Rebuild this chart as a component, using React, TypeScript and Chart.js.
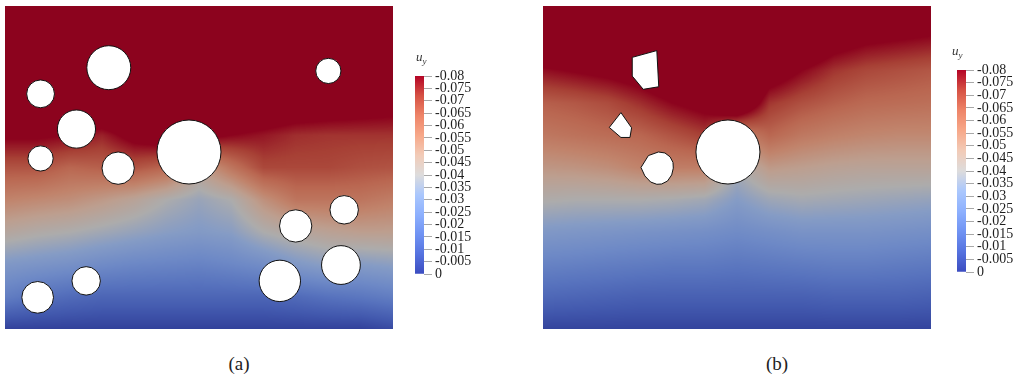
import React, { useEffect, useRef } from 'react';
import { Chart, registerables } from 'chart.js';
Chart.register(...registerables);

// ---------- data ----------
const U_MIN = -0.08;
const U_MAX = 0;

// sample grid (x: 0..12 left->right, y: 10..0 top->bottom)
const GRID_X = [0, 1, 2, 3, 4, 5, 6, 7, 8, 9, 10, 11, 12];
const GRID_Y = [10, 9, 8, 7, 6, 5, 4, 3, 2, 1, 0];

// u_y samples, rows from top to bottom
const FIELD_A: number[][] = [
  [-0.128, -0.128, -0.128, -0.128, -0.128, -0.128, -0.128, -0.128, -0.128, -0.128, -0.128, -0.128, -0.128],
  [-0.12, -0.12, -0.12, -0.12, -0.12, -0.12, -0.12, -0.12, -0.12, -0.12, -0.12, -0.12, -0.12],
  [-0.108, -0.108, -0.108, -0.108, -0.108, -0.108, -0.108, -0.108, -0.108, -0.108, -0.108, -0.108, -0.108],
  [-0.096, -0.096, -0.096, -0.096, -0.096, -0.1, -0.1, -0.096, -0.092, -0.0896, -0.088, -0.0864, -0.0848],
  [-0.0816, -0.0816, -0.08, -0.076, -0.084, -0.088, -0.084, -0.08, -0.0776, -0.0744, -0.0736, -0.0736, -0.0736],
  [-0.068, -0.068, -0.064, -0.0656, -0.068, -0.064, -0.048, -0.06, -0.0704, -0.0704, -0.0704, -0.0688, -0.068],
  [-0.056, -0.0544, -0.0528, -0.0496, -0.0456, -0.04, -0.036, -0.04, -0.052, -0.06, -0.06, -0.06, -0.0576],
  [-0.044, -0.0416, -0.04, -0.0376, -0.0352, -0.0328, -0.0312, -0.0328, -0.04, -0.044, -0.0464, -0.048, -0.048],
  [-0.0304, -0.0288, -0.0272, -0.0248, -0.0232, -0.0224, -0.0216, -0.0232, -0.0256, -0.0304, -0.0336, -0.032, -0.0336],
  [-0.02, -0.016, -0.0136, -0.012, -0.012, -0.012, -0.012, -0.012, -0.012, -0.0136, -0.016, -0.0176, -0.02],
  [-0.0016, -0.0016, -0.0016, -0.0016, -0.0016, -0.0016, -0.0016, -0.0016, -0.0016, -0.0016, -0.0016, -0.0016, -0.004],
];

// u_y samples, rows from top to bottom
const FIELD_B: number[][] = [
  [-0.112, -0.112, -0.112, -0.112, -0.12, -0.12, -0.12, -0.12, -0.116, -0.1104, -0.104, -0.096, -0.0896],
  [-0.096, -0.0976, -0.1, -0.104, -0.108, -0.112, -0.116, -0.108, -0.096, -0.0864, -0.0824, -0.0808, -0.0792],
  [-0.0784, -0.0808, -0.0832, -0.0864, -0.092, -0.096, -0.108, -0.088, -0.08, -0.0736, -0.0704, -0.0688, -0.0672],
  [-0.0656, -0.0672, -0.0696, -0.0744, -0.08, -0.084, -0.096, -0.0736, -0.0688, -0.0656, -0.0632, -0.0624, -0.0616],
  [-0.0592, -0.0608, -0.0624, -0.064, -0.068, -0.072, -0.056, -0.064, -0.0592, -0.0568, -0.0552, -0.0544, -0.0544],
  [-0.0504, -0.0512, -0.0528, -0.056, -0.0576, -0.0576, -0.04, -0.0496, -0.048, -0.0464, -0.0456, -0.0456, -0.0456],
  [-0.0408, -0.04, -0.04, -0.04, -0.0392, -0.0376, -0.032, -0.0368, -0.0384, -0.0376, -0.0368, -0.036, -0.0352],
  [-0.0304, -0.0296, -0.0288, -0.028, -0.0272, -0.0264, -0.0248, -0.0264, -0.028, -0.028, -0.028, -0.0272, -0.0264],
  [-0.0216, -0.0208, -0.02, -0.0192, -0.0184, -0.0184, -0.0176, -0.0184, -0.0192, -0.02, -0.02, -0.0192, -0.0184],
  [-0.0128, -0.012, -0.0112, -0.0104, -0.0104, -0.0104, -0.0104, -0.0104, -0.0104, -0.0112, -0.0112, -0.0112, -0.0104],
  [-0.0024, -0.0024, -0.0024, -0.0024, -0.0024, -0.0024, -0.0024, -0.0024, -0.0024, -0.0024, -0.0024, -0.0024, -0.0024],
];

// circular holes, panel (a)
const HOLES_A_X = [3.21, 1.1, 2.21, 1.1, 3.5, 5.69, 10.0, 10.49, 8.99, 10.39, 8.5, 2.51, 1.01];
const HOLES_A_Y = [8.09, 7.28, 6.19, 5.28, 4.98, 5.48, 7.99, 3.69, 3.19, 1.98, 1.49, 1.49, 0.98];
const HOLES_A_R = [0.68, 0.43, 0.59, 0.39, 0.5, 0.99, 0.39, 0.44, 0.5, 0.6, 0.64, 0.44, 0.49];

// circular hole, panel (b)
const HOLES_B_X = [5.72];
const HOLES_B_Y = [5.48];
const HOLES_B_R = [0.99];

// polygonal holes, panel (b)
const POLY_B1_X = [2.76, 3.52, 3.58, 3.1, 2.76];
const POLY_B1_Y = [8.41, 8.62, 7.5, 7.42, 7.83];
const POLY_B2_X = [2.41, 2.74, 2.69, 2.41, 2.05];
const POLY_B2_Y = [6.7, 6.23, 5.93, 5.93, 6.24];
const POLY_B3_X = [3.57, 3.77, 3.93, 4.02, 4.03, 3.98, 3.85, 3.67, 3.52, 3.33, 3.15, 3.03, 3.26];
const POLY_B3_Y = [5.48, 5.45, 5.33, 5.16, 4.98, 4.77, 4.58, 4.49, 4.48, 4.55, 4.74, 5.0, 5.37];

// colour bar
const CB_VALUES = [-0.08, -0.075, -0.07, -0.065, -0.06, -0.055, -0.05, -0.045, -0.04, -0.035, -0.03, -0.025, -0.02, -0.015, -0.01, -0.005, 0];
const CB_LABELS = ['-0.08', '-0.075', '-0.07', '-0.065', '-0.06', '-0.055', '-0.05', '-0.045', '-0.04', '-0.035', '-0.03', '-0.025', '-0.02', '-0.015', '-0.01', '-0.005', '0'];

// cool-to-warm colour map (0 = u_y 0, 1 = u_y -0.08)
const CMAP_T = [0, 0.1, 0.2, 0.3, 0.4, 0.5, 0.6, 0.7, 0.8, 0.9, 1];
const CMAP_RGB = [
  [59, 76, 192], [85, 114, 223], [112, 147, 243], [141, 176, 254], [170, 199, 253],
  [221, 220, 220], [242, 203, 183], [247, 168, 137], [238, 132, 104], [214, 82, 68], [180, 4, 38],
];
const FIELD_SHADE = 0.78;

// ---------- helpers ----------
function cmap(t: number): number[] {
  const tt = Math.max(0, Math.min(1, t));
  for (let i = 1; i < CMAP_T.length; i++) {
    if (tt <= CMAP_T[i]) {
      const f = (tt - CMAP_T[i - 1]) / (CMAP_T[i] - CMAP_T[i - 1]);
      const a = CMAP_RGB[i - 1], b = CMAP_RGB[i];
      return [a[0] + (b[0] - a[0]) * f, a[1] + (b[1] - a[1]) * f, a[2] + (b[2] - a[2]) * f];
    }
  }
  return CMAP_RGB[CMAP_RGB.length - 1];
}
const rgbStr = (c: number[]) => `rgb(${Math.round(c[0])},${Math.round(c[1])},${Math.round(c[2])})`;

function makeFieldPlugin(grid: number[][]) {
  return {
    id: 'uyField',
    beforeDatasetsDraw(chart: any) {
      const { left, top, right, bottom } = chart.chartArea;
      const w = Math.round(right - left), h = Math.round(bottom - top);
      const xs = chart.scales.x, ys = chart.scales.y;
      const ctx = chart.ctx as CanvasRenderingContext2D;
      const img = ctx.createImageData(w, h);
      const nx = GRID_X.length, ny = GRID_Y.length;
      const dx = GRID_X[1] - GRID_X[0];
      const dy = GRID_Y[0] - GRID_Y[1];
      const lut: number[][] = [];
      for (let k = 0; k <= 512; k++) lut.push(cmap(k / 512).map((v) => v * FIELD_SHADE));
      for (let py = 0; py < h; py++) {
        const yv = ys.getValueForPixel(top + py + 0.5);
        let fr = (GRID_Y[0] - yv) / dy;
        fr = Math.max(0, Math.min(ny - 1.000001, fr));
        const r0 = Math.floor(fr), rf = fr - r0;
        for (let px = 0; px < w; px++) {
          const xv = xs.getValueForPixel(left + px + 0.5);
          let fc = (xv - GRID_X[0]) / dx;
          fc = Math.max(0, Math.min(nx - 1.000001, fc));
          const c0 = Math.floor(fc), cf = fc - c0;
          const v =
            grid[r0][c0] * (1 - cf) * (1 - rf) +
            grid[r0][c0 + 1] * cf * (1 - rf) +
            grid[r0 + 1][c0] * (1 - cf) * rf +
            grid[r0 + 1][c0 + 1] * cf * rf;
          const t = Math.max(0, Math.min(1, (v - U_MAX) / (U_MIN - U_MAX)));
          const col = lut[Math.round(t * 512)];
          const o = (py * w + px) * 4;
          img.data[o] = col[0];
          img.data[o + 1] = col[1];
          img.data[o + 2] = col[2];
          img.data[o + 3] = 255;
        }
      }
      ctx.putImageData(img, Math.round(left), Math.round(top));
    },
  };
}

type Rect = { left: number; top: number; width: number; height: number };

function FieldPanel(props: {
  rect: Rect; grid: number[][];
  hx: number[]; hy: number[]; hr: number[];
  polys: { xs: number[]; ys: number[] }[];
}) {
  const ref = useRef<HTMLCanvasElement>(null);
  useEffect(() => {
    const { grid, hx, hy, hr, polys } = props;
    const datasets: any[] = polys.map((p) => ({
      data: [...p.xs, p.xs[0]].map((x, i) => ({ x, y: [...p.ys, p.ys[0]][i] })),
      showLine: true,
      fill: 'shape',
      backgroundColor: '#ffffff',
      borderColor: '#111111',
      borderWidth: 1,
      pointRadius: 0,
      tension: 0,
    }));
    datasets.push({
      data: hx.map((x, i) => ({ x, y: hy[i], r: hr[i] })),
      pointRadius: (ctx: any) => {
        const s = ctx.chart.scales.x;
        if (!s || !ctx.raw) return 0;
        return ctx.raw.r * Math.abs(s.getPixelForValue(1) - s.getPixelForValue(0));
      },
      pointBackgroundColor: '#ffffff',
      pointBorderColor: '#111111',
      pointBorderWidth: 1,
    });
    const chart = new Chart(ref.current!, {
      type: 'scatter',
      data: { datasets },
      options: {
        animation: false,
        responsive: false,
        events: [],
        layout: { padding: 0 },
        scales: {
          x: { type: 'linear', min: 0, max: 12, display: false },
          y: { type: 'linear', min: 0, max: 10, display: false },
        },
        plugins: { legend: { display: false }, tooltip: { enabled: false } },
      } as any,
      plugins: [makeFieldPlugin(grid)],
    });
    return () => chart.destroy();
  }, []);
  const r = props.rect;
  return (
    <canvas
      ref={ref}
      width={r.width}
      height={r.height}
      style={{ position: 'absolute', left: r.left, top: r.top, width: r.width, height: r.height }}
    />
  );
}

function ColorBar(props: { rect: Rect; barTop: number; barHeight: number; labelDx: number }) {
  const ref = useRef<HTMLCanvasElement>(null);
  useEffect(() => {
    const { rect, barTop, barHeight, labelDx } = props;
    const padLeft = 10;
    const barW = 9;
    const labelPlugin = {
      id: 'uyLabel',
      afterDraw(chart: any) {
        const { left, top } = chart.chartArea;
        const ctx = chart.ctx as CanvasRenderingContext2D;
        ctx.save();
        ctx.fillStyle = '#333333';
        ctx.textBaseline = 'alphabetic';
        ctx.font = 'italic 13px "Liberation Serif", serif';
        ctx.fillText('u', left + labelDx, top - 15);
        const w = ctx.measureText('u').width;
        ctx.font = 'italic 9px "Liberation Serif", serif';
        ctx.fillText('y', left + labelDx + w, top - 12);
        ctx.restore();
      },
    };
    const chart = new Chart(ref.current!, {
      type: 'bar',
      data: {
        labels: [''],
        datasets: [
          {
            data: [[U_MIN, U_MAX]] as any,
            backgroundColor: (ctx: any) => {
              const ch = ctx.chart;
              const ys = ch.scales.y;
              if (!ys || !ch.chartArea) return '#cccccc';
              const y0 = ys.getPixelForValue(U_MAX);
              const y1 = ys.getPixelForValue(U_MIN);
              const g = ch.ctx.createLinearGradient(0, y0, 0, y1);
              CMAP_T.forEach((t, i) => g.addColorStop(t, rgbStr(CMAP_RGB[i])));
              return g;
            },
            borderWidth: 0,
            categoryPercentage: 1,
            barPercentage: 1,
          },
        ],
      },
      options: {
        animation: false,
        responsive: false,
        events: [],
        layout: { padding: { left: padLeft, top: barTop - rect.top, bottom: rect.top + rect.height - barTop - barHeight, right: 0 } },
        scales: {
          x: { display: false },
          y: {
            position: 'right',
            min: U_MIN,
            max: U_MAX,
            reverse: true,
            afterBuildTicks: (s: any) => {
              s.ticks = CB_VALUES.map((v) => ({ value: v }));
            },
            afterFit: (s: any) => {
              s.width = rect.width - padLeft - barW;
            },
            ticks: {
              autoSkip: false,
              padding: 3,
              color: '#1e1e1e',
              font: { family: '"Liberation Serif", serif', size: 14 },
              callback: (v: any) => {
                const i = CB_VALUES.findIndex((c) => Math.abs(c - Number(v)) < 1e-7);
                return i >= 0 ? CB_LABELS[i] : '';
              },
            },
            grid: { drawOnChartArea: false, drawTicks: true, tickLength: 8, color: '#a8a8a8', lineWidth: 1 },
            border: { display: false },
          },
        },
        plugins: { legend: { display: false }, tooltip: { enabled: false } },
      } as any,
      plugins: [labelPlugin],
    });
    return () => chart.destroy();
  }, []);
  const r = props.rect;
  return (
    <canvas
      ref={ref}
      width={r.width}
      height={r.height}
      style={{ position: 'absolute', left: r.left, top: r.top, width: r.width, height: r.height }}
    />
  );
}

const captionStyle = (cx: number): React.CSSProperties => ({
  position: 'absolute',
  left: cx - 30,
  width: 60,
  top: 353,
  textAlign: 'center',
  fontFamily: '"Liberation Serif", serif',
  fontSize: 19,
  lineHeight: '22px',
  color: '#222',
});

export default function App() {
  return (
    <div style={{ position: 'absolute', left: 0, top: 0, width: 1016, height: 379, background: '#fff', overflow: 'hidden' }}>
      <FieldPanel
        rect={{ left: 5, top: 6, width: 388, height: 323 }}
        grid={FIELD_A}
        hx={HOLES_A_X}
        hy={HOLES_A_Y}
        hr={HOLES_A_R}
        polys={[]}
      />
      <ColorBar rect={{ left: 405, top: 46, width: 80, height: 245 }} barTop={76} barHeight={198} labelDx={1} />
      <FieldPanel
        rect={{ left: 543, top: 6, width: 388, height: 323 }}
        grid={FIELD_B}
        hx={HOLES_B_X}
        hy={HOLES_B_Y}
        hr={HOLES_B_R}
        polys={[
          { xs: POLY_B1_X, ys: POLY_B1_Y },
          { xs: POLY_B2_X, ys: POLY_B2_Y },
          { xs: POLY_B3_X, ys: POLY_B3_Y },
        ]}
      />
      <ColorBar rect={{ left: 947, top: 40, width: 69, height: 250 }} barTop={70} barHeight={202} labelDx={-5} />
      <div style={captionStyle(239)}>(a)</div>
      <div style={captionStyle(777)}>(b)</div>
    </div>
  );
}
